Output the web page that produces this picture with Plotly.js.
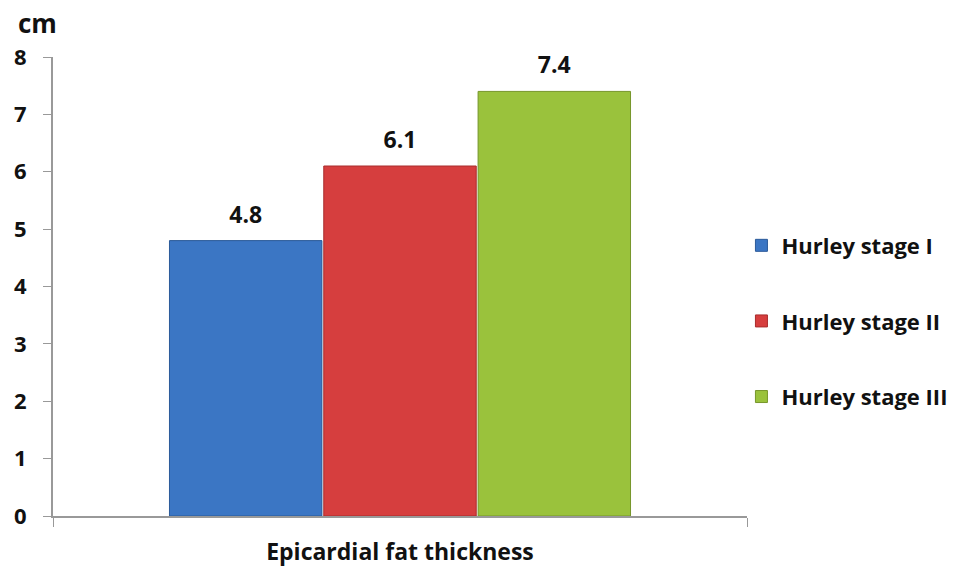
<!DOCTYPE html>
<html><head><meta charset="utf-8">
<script src="https://cdn.plot.ly/plotly-3.0.1.min.js"></script>
<style>body{margin:0;background:#fff}#c{width:974px;height:567px}</style>
</head><body><div id="c"></div>
<script>
const category = ["Epicardial fat thickness"];
const seriesNames = ["Hurley stage I", "Hurley stage II", "Hurley stage III"];
const seriesValues = [4.8, 6.1, 7.4];
const seriesColors = ["#3b76c4", "#d63e3e", "#9ac23c"];
const lineColors = ["#2b5a99", "#a82c2c", "#76962a"];
const yTicks = [0, 1, 2, 3, 4, 5, 6, 7, 8];

const F = "'Open Sans', sans-serif";
const bars = seriesNames.map((n, i) => ({
  type: "bar",
  name: n,
  legendgroup: "g" + i,
  x: category,
  y: [seriesValues[i]],
  marker: {color: seriesColors[i], line: {color: lineColors[i], width: 1}},
  hoverinfo: "skip"
}));
const labels = seriesNames.map((n, i) => ({
  type: "scatter",
  mode: "markers+text",
  name: n + " label",
  showlegend: false,
  x: category,
  y: [seriesValues[i]],
  text: [seriesValues[i].toFixed(1)],
  textposition: "top center",
  cliponaxis: false,
  marker: {size: 18, color: "rgba(0,0,0,0)"},
  textfont: {family: F, size: 23, color: "#111", weight: "bold"},
  hoverinfo: "skip"
}));

const layout = {
  width: 974, height: 567,
  margin: {l: 53, r: 227, t: 57, b: 51},
  paper_bgcolor: "#fff", plot_bgcolor: "#fff",
  barmode: "group",
  bargap: 0.333,
  bargroupgap: 0.012,
  scattermode: "group",
  scattergap: 0.333,
  showlegend: true,
  legend: {
    x: 0.992, y: 0.635, xanchor: "left", yanchor: "top",
    font: {family: F, size: 22, color: "#111", weight: "bold"},
    tracegroupgap: 44, itemwidth: 30
  },
  xaxis: {
    type: "category",
    showline: true, linecolor: "#999", linewidth: 2,
    ticks: "outside", tickson: "boundaries", ticklen: 9, tickcolor: "#999",
    tickfont: {family: F, size: 23, color: "#111", weight: "bold"},
    ticklabelstandoff: 14,
    showgrid: false, zeroline: false, fixedrange: true
  },
  yaxis: {
    range: [0, 8],
    tickvals: yTicks,
    showline: true, linecolor: "#999", linewidth: 2,
    ticks: "outside", ticklen: 8, tickcolor: "#999",
    tickfont: {family: F, size: 22, color: "#111", weight: "bold"},
    ticklabelstandoff: 12,
    showgrid: false, zeroline: false, fixedrange: true
  },
  annotations: [{
    text: "<b>cm</b>", xref: "paper", yref: "paper",
    x: -0.023, y: 1.073, xanchor: "center", yanchor: "middle",
    showarrow: false, font: {family: F, size: 26, color: "#111"}
  }]
};
Plotly.newPlot("c", bars.concat(labels), layout, {displayModeBar: false, staticPlot: true});
</script></body></html>
